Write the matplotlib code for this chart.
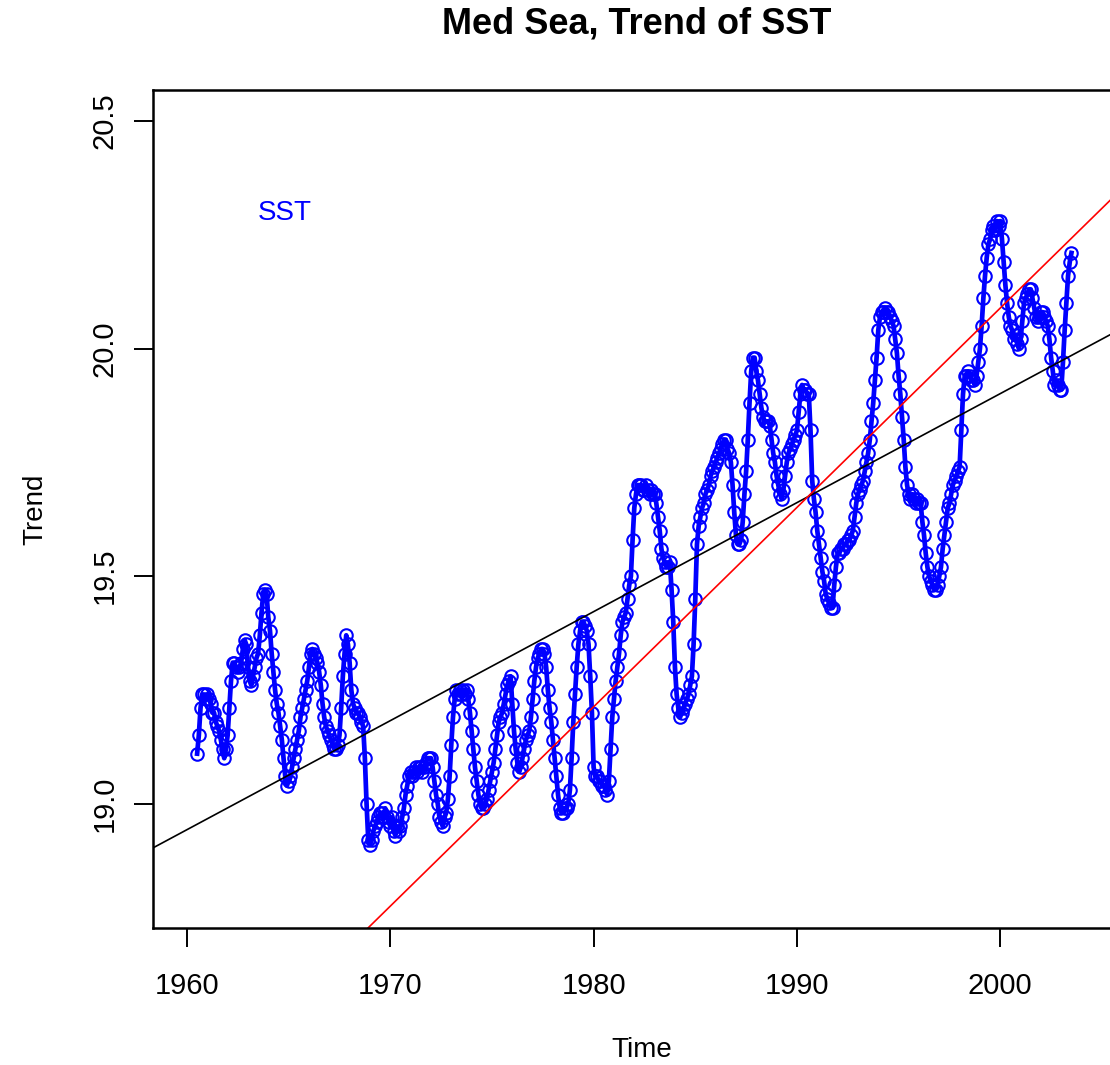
import numpy as np
import matplotlib
matplotlib.use("Agg")
import matplotlib.pyplot as plt

plt.rcParams['font.family'] = ['Liberation Sans', 'DejaVu Sans']

# Monthly SST trend, first value at 1960.5, one value per month
start_year = 1960.5
sst_trend = [
    19.11, 19.15, 19.21, 19.24, 19.24, 19.23, 19.24, 19.23, 19.22, 19.20, 19.20, 19.18,
    19.17, 19.16, 19.14, 19.12, 19.10, 19.12, 19.15, 19.21, 19.27, 19.31, 19.31, 19.30,
    19.29, 19.30, 19.31, 19.34, 19.36, 19.35, 19.30, 19.27, 19.26, 19.28, 19.30, 19.32,
    19.33, 19.37, 19.42, 19.46, 19.47, 19.46, 19.41, 19.38, 19.33, 19.29, 19.25, 19.22,
    19.20, 19.17, 19.14, 19.10, 19.06, 19.04, 19.05, 19.06, 19.08, 19.10, 19.12, 19.14,
    19.16, 19.19, 19.21, 19.23, 19.25, 19.27, 19.30, 19.33, 19.34, 19.33, 19.32, 19.31,
    19.29, 19.26, 19.22, 19.19, 19.17, 19.16, 19.15, 19.14, 19.13, 19.12, 19.12, 19.13,
    19.15, 19.21, 19.28, 19.33, 19.37, 19.35, 19.31, 19.25, 19.22, 19.21, 19.20, 19.20,
    19.19, 19.18, 19.17, 19.10, 19.00, 18.92, 18.91, 18.92, 18.94, 18.95, 18.96, 18.97,
    18.98, 18.98, 18.97, 18.99, 18.97, 18.96, 18.95, 18.97, 18.94, 18.93, 18.95, 18.94,
    18.95, 18.97, 18.99, 19.02, 19.04, 19.06, 19.07, 19.06, 19.07, 19.08, 19.07, 19.08,
    19.08, 19.07, 19.08, 19.09, 19.10, 19.10, 19.10, 19.08, 19.05, 19.02, 19.00, 18.97,
    18.96, 18.95, 18.97, 18.98, 19.01, 19.06, 19.13, 19.19, 19.23, 19.25, 19.24, 19.25,
    19.24, 19.25, 19.24, 19.25, 19.23, 19.20, 19.16, 19.12, 19.08, 19.05, 19.02, 19.00,
    18.99, 18.99, 19.00, 19.01, 19.03, 19.05, 19.07, 19.09, 19.12, 19.15, 19.18, 19.19,
    19.20, 19.22, 19.24, 19.26, 19.27, 19.28, 19.22, 19.16, 19.12, 19.09, 19.07, 19.08,
    19.10, 19.12, 19.14, 19.15, 19.16, 19.19, 19.23, 19.27, 19.30, 19.32, 19.33, 19.34,
    19.34, 19.33, 19.30, 19.25, 19.21, 19.18, 19.14, 19.10, 19.06, 19.02, 18.99, 18.98,
    18.98, 18.99, 18.99, 19.00, 19.03, 19.10, 19.18, 19.24, 19.30, 19.35, 19.38, 19.40,
    19.40, 19.39, 19.38, 19.35, 19.28, 19.20, 19.08, 19.06, 19.06, 19.05, 19.05, 19.04,
    19.04, 19.03, 19.02, 19.05, 19.12, 19.19, 19.23, 19.27, 19.30, 19.33, 19.37, 19.40,
    19.41, 19.42, 19.45, 19.48, 19.50, 19.58, 19.65, 19.68, 19.70, 19.70, 19.70, 19.69,
    19.69, 19.70, 19.69, 19.68, 19.69, 19.68, 19.68, 19.66, 19.63, 19.60, 19.56, 19.54,
    19.53, 19.52, 19.52, 19.53, 19.47, 19.40, 19.30, 19.24, 19.21, 19.19, 19.20, 19.21,
    19.22, 19.23, 19.24, 19.26, 19.28, 19.35, 19.45, 19.57, 19.61, 19.63, 19.65, 19.66,
    19.68, 19.69, 19.70, 19.72, 19.73, 19.74, 19.75, 19.76, 19.77, 19.78, 19.79, 19.80,
    19.80, 19.78, 19.77, 19.75, 19.70, 19.64, 19.59, 19.57, 19.57, 19.58, 19.62, 19.68,
    19.73, 19.80, 19.88, 19.95, 19.98, 19.98, 19.95, 19.93, 19.90, 19.87, 19.85, 19.84,
    19.84, 19.84, 19.83, 19.80, 19.77, 19.75, 19.72, 19.70, 19.68, 19.67, 19.69, 19.72,
    19.75, 19.77, 19.78, 19.79, 19.80, 19.81, 19.82, 19.86, 19.90, 19.92, 19.91, 19.91,
    19.90, 19.90, 19.82, 19.71, 19.67, 19.64, 19.60, 19.57, 19.54, 19.51, 19.49, 19.46,
    19.45, 19.44, 19.43, 19.43, 19.48, 19.52, 19.55, 19.55, 19.56, 19.56, 19.57, 19.57,
    19.58, 19.58, 19.59, 19.60, 19.63, 19.66, 19.68, 19.69, 19.70, 19.71, 19.73, 19.75,
    19.77, 19.80, 19.84, 19.88, 19.93, 19.98, 20.04, 20.07, 20.08, 20.08, 20.09, 20.08,
    20.08, 20.07, 20.06, 20.05, 20.02, 19.99, 19.94, 19.90, 19.85, 19.80, 19.74, 19.70,
    19.68, 19.67, 19.68, 19.67, 19.66, 19.67, 19.66, 19.66, 19.62, 19.59, 19.55, 19.52,
    19.50, 19.49, 19.48, 19.47, 19.47, 19.48, 19.50, 19.52, 19.56, 19.59, 19.62, 19.65,
    19.66, 19.68, 19.70, 19.71, 19.72, 19.73, 19.74, 19.82, 19.90, 19.94, 19.94, 19.95,
    19.94, 19.93, 19.93, 19.92, 19.94, 19.97, 20.00, 20.05, 20.11, 20.16, 20.20, 20.23,
    20.24, 20.26, 20.27, 20.26, 20.28, 20.27, 20.28, 20.24, 20.19, 20.14, 20.10, 20.07,
    20.05, 20.04, 20.02, 20.03, 20.01, 20.00, 20.02, 20.06, 20.10, 20.11, 20.12, 20.13,
    20.13, 20.11, 20.09, 20.07, 20.06, 20.07, 20.08, 20.08, 20.07, 20.06, 20.05, 20.02,
    19.98, 19.95, 19.92, 19.93, 19.92, 19.91, 19.91, 19.97, 20.04, 20.10, 20.16, 20.19,
    20.21,
]

# fitted lines: value at 1960 and slope per year
fit_lm = (18.943, 0.02395)     # black
fit_red = (18.337, 0.0438)     # red

x_ticks = [1960, 1970, 1980, 1990, 2000]
y_ticks = [19.0, 19.5, 20.0, 20.5]

time = start_year + np.arange(len(sst_trend)) / 12.0

fig = plt.figure(figsize=(11.1, 10.65), dpi=100)
# plot region runs past the right edge of the picture, as in the original
ax = fig.add_axes([153 / 1110, 1 - 928 / 1065, (1130 - 153) / 1110, (928 - 90) / 1065])

ax.plot(time, sst_trend, color='#0000ff', lw=3.4, marker='o', ms=9,
        mfc='none', mec='#0000ff', mew=1.5)

for (a, b), col in [(fit_lm, 'black'), (fit_red, 'red')]:
    ax.axline((1960, a), slope=b, color=col, lw=1.2)

ax.set_xlim(1958.33, 2006.38)
ax.set_ylim(18.727, 20.568)

ax.set_xticks(x_ticks)
ax.set_yticks(y_ticks)
ax.set_xticklabels([str(t) for t in x_ticks], fontsize=21)
ax.set_yticklabels([f"{t:.1f}" for t in y_ticks], fontsize=21, rotation=90, va='center')
ax.tick_params(length=14, width=1.4, colors='black')
ax.tick_params(axis='x', pad=18)
ax.tick_params(axis='y', pad=11)
for s in ax.spines.values():
    s.set_linewidth(1.8)

ax.text(1964.82, 20.297, "SST", color='#0000ff', fontsize=20, ha='center', va='center')

ax.set_xlabel("Time", fontsize=20, labelpad=26)
ax.set_ylabel("Trend", fontsize=20, labelpad=30)
fig.text(637 / 1110, 1 - 24 / 1065, "Med Sea, Trend of SST", fontsize=26,
         fontweight='bold', ha='center', va='center')

fig.savefig("out.png", dpi=100)
